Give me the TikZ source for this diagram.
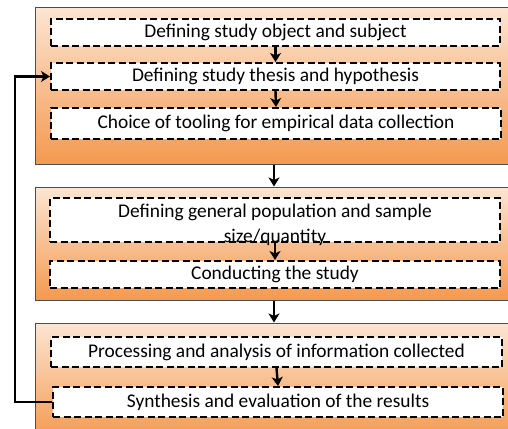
\documentclass[tikz,border=0pt]{standalone}
\usepackage{fontspec}
\setmainfont{Carlito}
\usetikzlibrary{arrows.meta}
\definecolor{peach}{HTML}{FCE5D2}
\definecolor{tanmid}{HTML}{D3BBA9}
\definecolor{orng}{HTML}{F4994F}
\begin{document}
\begin{tikzpicture}[x=1pt,y=-1pt,
  stage/.style={draw=black!70, line width=1pt, top color=peach, middle color=tanmid, bottom color=orng, minimum width=478pt, inner sep=0pt},
  stepbox/.style={draw=black, fill=white, dash pattern=on 7pt off 3.5pt, line width=2pt, minimum width=449pt, inner sep=0pt, font=\fontsize{19.4}{25}\selectfont},
  arr/.style={line width=2.4pt, -{Stealth[length=9pt,width=11pt,inset=2.5pt]}},
  lbl/.style={font=\fontsize{19.4}{25}\selectfont, align=center, inner sep=0pt}]
\useasboundingbox (0,0) rectangle (508,428);
\clip (0,0) rectangle (508,428);
\node[stage, minimum height=156pt] (o1) at (274,86) {};
\node[stage, minimum height=113pt] (o2) at (274,243.5) {};
\node[stage, minimum height=117pt] (o3) at (274,381.5) {};
\node[stepbox, minimum height=27pt] (b1) at (275.5,32.5) {Defining study object and subject};
\node[stepbox, minimum height=27pt] (b2) at (275.5,76.5) {Defining study thesis and hypothesis};
\node[stepbox, minimum height=31pt, minimum width=450pt] (b3) at (276,123.5) {Choice of tooling for empirical data collection};
\node[stepbox, minimum height=44pt, minimum width=450pt] (b4) at (275,220) {};
\node[lbl] (t4) at (275,225) {Defining general population and sample\\size/quantity};
\node[stepbox, minimum height=27pt, minimum width=450pt] (b5) at (275,274.5) {Conducting the study};
\node[stepbox, minimum height=30pt, minimum width=451pt] (b6) at (276.5,352) {Processing and analysis of information collected};
\node[stepbox, minimum height=30pt, minimum width=450pt] (b7) at (278,402) {Synthesis and evaluation of the results};
\draw[arr] (b1.south) -- (b2.north);
\draw[arr] (b2.south) -- (b3.north);
\draw[arr] (b4.south) -- (b5.north);
\draw[arr] (b6.south) -- (b7.north);
\draw[arr] (o1.south) -- (o2.north);
\draw[arr] (o2.south) -- (o3.north);
\coordinate (lp) at (15,0);
\draw[arr] (b7.west) -- (b7.west -| lp) |- (b2.west);
\end{tikzpicture}
\end{document}
